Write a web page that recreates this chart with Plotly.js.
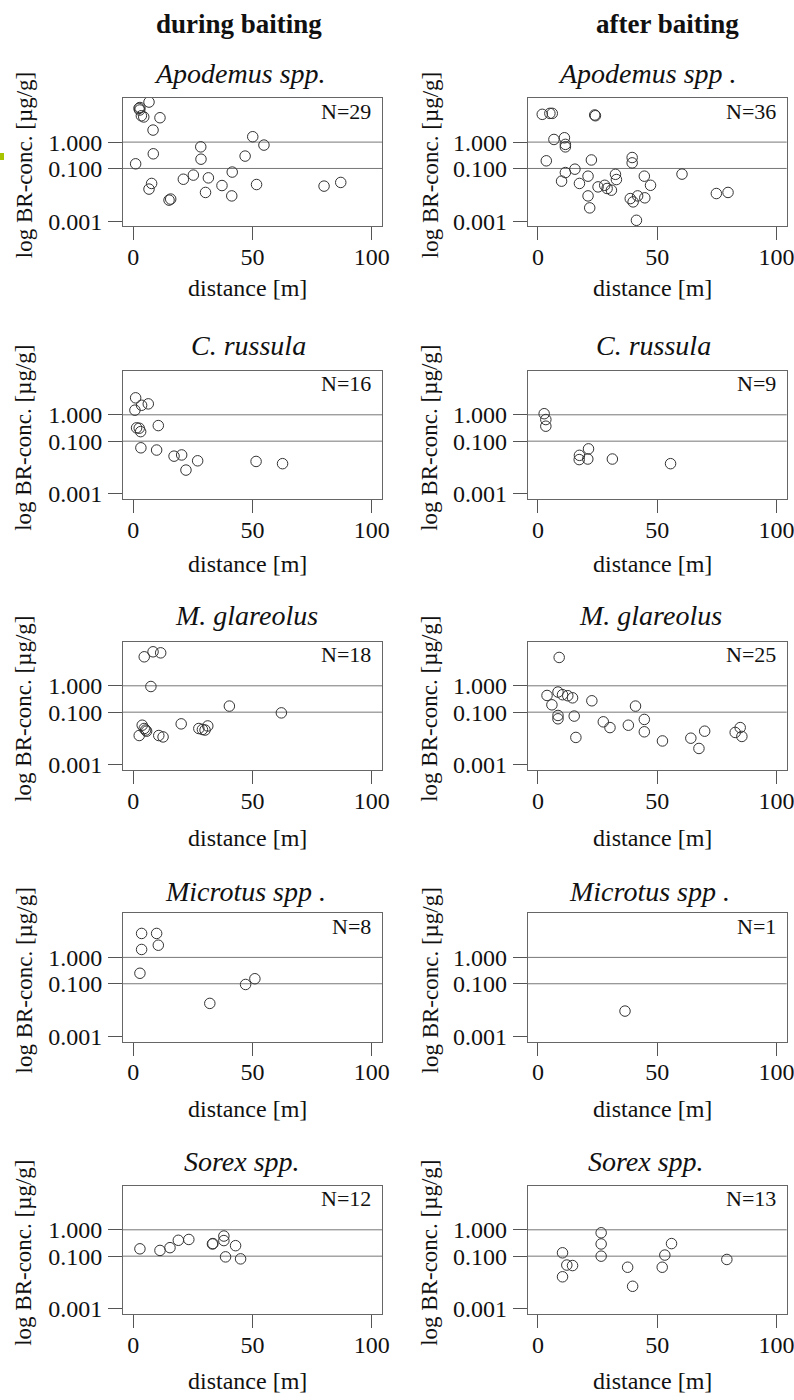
<!DOCTYPE html>
<html><head><meta charset="utf-8">
<script src="https://cdn.plot.ly/plotly-3.0.1.min.js"></script>
<style>html,body{margin:0;padding:0;background:#fff}</style>
</head><body><div id="chart" style="width:794px;height:1400px"></div>
<script>
// ---- text ----
const columnTitles = ['during baiting', 'after baiting'];
const speciesTitlesDuring = ['Apodemus spp.', 'C. russula', 'M. glareolus', 'Microtus spp .', 'Sorex spp.'];
const speciesTitlesAfter = ['Apodemus spp .', 'C. russula', 'M. glareolus', 'Microtus spp .', 'Sorex spp.'];
const nDuring = [29, 16, 18, 8, 12];
const nAfter = [36, 9, 25, 1, 13];
const xLabel = 'distance [m]';
const yLabel = 'log BR-conc. [µg/g]';
const yTickVals = [0.001, 0.1, 1];
const yTickText = ['0.001', '0.100', '1.000'];
const xTickVals = [0, 50, 100];
const xTickText = ['0', '50', '100'];
const gridLevels = [0.1, 1];

// ---- data (distance m, BR concentration µg/g) ----
const apodemusDuringX = [6.6, 2.4, 2.7, 2.8, 3.4, 4.4, 11.2, 8.3, 8.4, 1.0, 7.7, 6.6, 15.0, 15.7, 21.0, 25.2, 28.3, 28.4, 31.5, 30.3, 37.2, 41.5, 41.3, 46.9, 50.1, 54.8, 51.7, 80.0, 87.0];
const apodemusDuringY = [33, 19, 16.5, 20.5, 10, 9, 8.4, 2.86, 0.36, 0.15, 0.027, 0.0165, 0.0063, 0.0069, 0.039, 0.056, 0.66, 0.225, 0.044, 0.0123, 0.0225, 0.073, 0.0091, 0.295, 1.6, 0.77, 0.0246, 0.0214, 0.0295];
const apodemusAfterX = [1.8, 5.0, 6.0, 23.8, 24.1, 6.7, 11.1, 11.5, 11.5, 3.5, 22.4, 39.5, 39.5, 15.5, 11.5, 9.9, 21.0, 17.4, 32.5, 32.9, 25.2, 28.0, 29.0, 30.8, 21.0, 21.7, 38.7, 39.9, 41.8, 41.3, 44.6, 44.8, 47.2, 60.4, 74.8, 79.7];
const apodemusAfterY = [11.3, 12.3, 12.3, 10.7, 10.0, 1.26, 1.46, 0.82, 0.66, 0.195, 0.21, 0.26, 0.163, 0.094, 0.07, 0.033, 0.051, 0.027, 0.06, 0.038, 0.020, 0.023, 0.0174, 0.015, 0.0091, 0.0032, 0.0072, 0.0054, 0.0091, 0.00108, 0.051, 0.0077, 0.023, 0.061, 0.0112, 0.0123];
const russulaDuringX = [1.0, 0.7, 3.5, 6.3, 1.4, 2.5, 3.1, 10.5, 3.2, 9.8, 17.1, 20.3, 22.1, 27.0, 51.5, 62.6];
const russulaDuringY = [4.4, 1.5, 2.3, 2.6, 0.32, 0.31, 0.23, 0.39, 0.056, 0.046, 0.027, 0.030, 0.008, 0.018, 0.017, 0.014];
const russulaAfterX = [2.6, 3.3, 3.3, 17.4, 17.3, 20.9, 21.2, 31.2, 55.6];
const russulaAfterY = [1.1, 0.66, 0.37, 0.029, 0.02, 0.021, 0.051, 0.021, 0.014];
const glareolusDuringX = [4.6, 8.3, 11.5, 7.4, 3.75, 4.6, 5.6, 5.2, 2.5, 10.7, 12.5, 20.1, 27.5, 30.1, 31.25, 29.0, 40.3, 62.1];
const glareolusDuringY = [12.6, 19.5, 17.8, 0.94, 0.032, 0.024, 0.019, 0.021, 0.013, 0.013, 0.0115, 0.036, 0.024, 0.021, 0.030, 0.022, 0.17, 0.094];
const glareolusAfterX = [8.9, 3.8, 8.4, 10.3, 12.5, 14.5, 5.85, 22.6, 8.4, 8.4, 15.2, 15.9, 27.4, 30.2, 37.9, 40.9, 44.6, 44.6, 52.2, 64.1, 67.5, 69.9, 82.7, 84.8, 85.5];
const glareolusAfterY = [11.9, 0.43, 0.58, 0.46, 0.42, 0.35, 0.19, 0.27, 0.075, 0.056, 0.071, 0.011, 0.043, 0.026, 0.032, 0.17, 0.053, 0.018, 0.0081, 0.0103, 0.0042, 0.019, 0.017, 0.026, 0.012];
const microtusDuringX = [3.5, 9.8, 3.5, 10.5, 2.8, 32.1, 47.1, 51.0];
const microtusDuringY = [8.1, 8.1, 2.0, 2.9, 0.25, 0.018, 0.094, 0.155];
const microtusAfterX = [36.5];
const microtusAfterY = [0.0092];
const sorexDuringX = [2.8, 11.2, 15.4, 18.9, 23.3, 33.2, 33.4, 38.0, 38.0, 42.9, 38.7, 45.0];
const sorexDuringY = [0.19, 0.165, 0.21, 0.40, 0.43, 0.29, 0.30, 0.58, 0.39, 0.25, 0.094, 0.079];
const sorexAfterX = [10.3, 12.1, 14.5, 10.3, 26.5, 26.5, 26.5, 37.6, 39.7, 52.1, 53.2, 56.0, 79.2];
const sorexAfterY = [0.134, 0.046, 0.044, 0.0165, 0.77, 0.29, 0.1, 0.038, 0.0072, 0.038, 0.11, 0.30, 0.075];

const panelsDuring = [[apodemusDuringX, apodemusDuringY], [russulaDuringX, russulaDuringY], [glareolusDuringX, glareolusDuringY], [microtusDuringX, microtusDuringY], [sorexDuringX, sorexDuringY]];
const panelsAfter = [[apodemusAfterX, apodemusAfterY], [russulaAfterX, russulaAfterY], [glareolusAfterX, glareolusAfterY], [microtusAfterX, microtusAfterY], [sorexAfterX, sorexAfterY]];

// ---- layout geometry (pixels) ----
const W = 794, H = 1400;
const FONT = 'Liberation Serif, Times New Roman, serif';
const colBoxX = [[123, 382], [527.7, 786.7]];
const rowBoxTop = [98, 370.7, 641.7, 913.3, 1185.7];
const boxH = 128.3;
const titleCx = [[240, 248, 246, 245, 242], [647, 653, 650, 649, 646]];
const titleCy = [74, 345, 616, 891, 1161];
const xlabCy = [288, 564, 838, 1109, 1381];
const colHeadCx = [239, 667];
const ylabCx = [24, 430];
const px = v => v / W;
const py = v => 1 - v / H;

const data = [], annotations = [], shapes = [];
const layout = {
  width: W, height: H, margin: {l: 0, r: 0, t: 0, b: 0},
  paper_bgcolor: '#fff', plot_bgcolor: '#fff', showlegend: false,
  font: {family: FONT, color: '#111'}
};

for (let c = 0; c < 2; c++) {
  annotations.push({xref: 'paper', yref: 'paper', x: px(colHeadCx[c]), y: py(24), xanchor: 'center', yanchor: 'middle',
    text: '<b>' + columnTitles[c] + '</b>', showarrow: false, font: {size: 27, family: FONT, color: '#111'}});
  for (let r = 0; r < 5; r++) {
    const k = c * 5 + r + 1;
    const src = c === 0 ? panelsDuring[r] : panelsAfter[r];
    const xa = 'x' + k, ya = 'y' + k;
    data.push({type: 'scatter', mode: 'markers', x: src[0], y: src[1], xaxis: xa, yaxis: ya,
      marker: {symbol: 'circle-open', size: 10.5, color: '#333', line: {width: 1, color: '#333'}},
      hoverinfo: 'skip'});
    const top = rowBoxTop[r], bot = top + boxH;
    layout['xaxis' + k] = {
      domain: [px(colBoxX[c][0]), px(colBoxX[c][1])], anchor: ya, range: [-4.3, 104.3],
      tickvals: xTickVals, ticktext: xTickText, ticks: 'outside', ticklen: 13, tickwidth: 1, tickcolor: '#555',
      showline: true, mirror: true, linecolor: '#666', linewidth: 1, showgrid: false, zeroline: false,
      tickfont: {size: 24, family: FONT, color: '#111'}, ticklabelstandoff: -4, ticklabeloverflow: 'allow', fixedrange: true
    };
    layout['yaxis' + k] = {
      domain: [py(bot), py(top)], anchor: xa, type: 'log', range: [-3.194, 1.673],
      tickvals: yTickVals, ticktext: yTickText, ticks: 'outside', ticklen: 14, tickwidth: 1, tickcolor: '#555',
      showline: true, mirror: true, linecolor: '#666', linewidth: 1, showgrid: false, zeroline: false,
      tickfont: {size: 24, family: FONT, color: '#111'}, ticklabelstandoff: 1, fixedrange: true
    };
    gridLevels.forEach(g => shapes.push({type: 'line', xref: xa + ' domain', yref: ya, x0: 0, x1: 1, y0: g, y1: g,
      line: {color: '#777', width: 1}, layer: 'below'}));
    const title = c === 0 ? speciesTitlesDuring[r] : speciesTitlesAfter[r];
    annotations.push({xref: 'paper', yref: 'paper', x: px(titleCx[c][r]), y: py(titleCy[r]), xanchor: 'center', yanchor: 'middle',
      text: '<i>' + title + '</i>', showarrow: false, font: {size: 28, family: FONT, color: '#111'}});
    const n = c === 0 ? nDuring[r] : nAfter[r];
    annotations.push({xref: xa + ' domain', yref: ya + ' domain', x: 1, y: 1, xshift: -9, yshift: -13, xanchor: 'right', yanchor: 'middle',
      text: 'N=' + n, showarrow: false, font: {size: 22, family: FONT, color: '#111'}});
    annotations.push({xref: 'paper', yref: 'paper', x: px((colBoxX[c][0] + colBoxX[c][1]) / 2 - 5), y: py(xlabCy[r]), xanchor: 'center', yanchor: 'middle',
      text: xLabel, showarrow: false, font: {size: 24, family: FONT, color: '#111'}});
    annotations.push({xref: 'paper', yref: 'paper', x: px(ylabCx[c]), y: py(top + boxH / 2 + 3), xanchor: 'center', yanchor: 'middle',
      text: yLabel, textangle: -90, showarrow: false, font: {size: 23, family: FONT, color: '#111'}});
  }
}
shapes.push({type: 'rect', xref: 'paper', yref: 'paper', x0: 0, x1: px(4), y0: py(160), y1: py(153), fillcolor: '#a8c400', line: {width: 0}});
layout.annotations = annotations;
layout.shapes = shapes;
Plotly.newPlot('chart', data, layout, {staticPlot: true, displayModeBar: false});
</script></body></html>
